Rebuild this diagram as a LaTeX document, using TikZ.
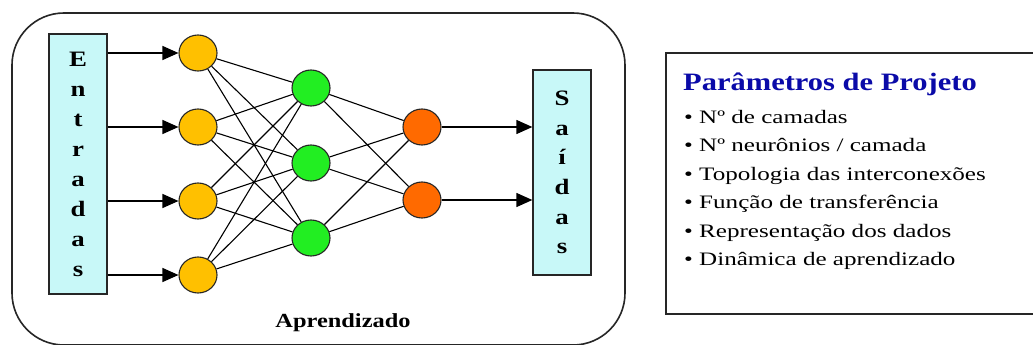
\documentclass[tikz,border=0pt]{standalone}
\usepackage{fontspec}
\setmainfont{Liberation Serif}
\newfontfamily\widefont[FakeStretch=1.22]{Liberation Serif}
\newfontfamily\listfont[FakeStretch=1.32]{Liberation Serif}
\usetikzlibrary{arrows.meta,shapes.geometric}
\definecolor{inyellow}{HTML}{FFC000}
\definecolor{hidgreen}{HTML}{22EE22}
\definecolor{outorange}{HTML}{FF6A00}
\definecolor{iocyan}{HTML}{C8F8F8}
\definecolor{titleblue}{HTML}{0A0AA8}
\begin{document}
\begin{tikzpicture}[x=1pt,y=-1pt,
  neuron/.style={ellipse,draw=black!85,line width=1.1pt,minimum width=38pt,minimum height=36pt,inner sep=0pt},
  inneuron/.style={neuron,fill=inyellow},
  hidneuron/.style={neuron,fill=hidgreen},
  outneuron/.style={neuron,fill=outorange},
  iobox/.style={draw=black!85,line width=1.3pt,fill=iocyan,minimum width=58pt,inner sep=0pt,
    align=center,font=\widefont\bfseries\fontsize{22}{30}\selectfont},
  link/.style={draw=black,line width=1.1pt},
  feed/.style={draw=black,line width=1.3pt,-{Triangle[length=16pt,width=14pt]}},
  frame/.style={draw=black!85,line width=1.6pt,rounded corners=52pt},
  panel/.style={draw=black!85,line width=1.6pt,fill=white},
  item/.style={anchor=base west,inner sep=0pt,font=\listfont\fontsize{19}{19}\selectfont}]
\useasboundingbox[fill=white] (0,0) rectangle (1033,345);

% outer learning frame
\draw[frame] (12,13) rectangle (625,345);

% input and output boxes
\node[iobox,minimum height=260pt] (ent) at (78,164) {E\\n\\t\\r\\a\\d\\a\\s};
\node[iobox,minimum height=205pt,font=\widefont\bfseries\fontsize{22}{29.6}\selectfont] (sai) at (562,172.5) {S\\a\\í\\d\\a\\s};

% neurons
\node[inneuron] (i1) at (198,53) {};
\node[inneuron] (i2) at (198,127) {};
\node[inneuron] (i3) at (198,201) {};
\node[inneuron] (i4) at (198,275) {};
\node[hidneuron] (h1) at (311,88) {};
\node[hidneuron] (h2) at (311,163) {};
\node[hidneuron] (h3) at (311,238) {};
\node[outneuron] (o1) at (422,127) {};
\node[outneuron] (o2) at (422,200) {};

% fully connected layers
\foreach \a in {i1,i2,i3,i4}
  \foreach \b in {h1,h2,h3}
    \draw[link] (\a) -- (\b);
\foreach \a in {h1,h2,h3}
  \foreach \b in {o1,o2}
    \draw[link] (\a) -- (\b);

% inputs and outputs
\foreach \n in {i1,i2,i3,i4}
  \draw[feed] (ent.east |- \n) -- (\n.west);
\draw[feed] (o1.east) -- (sai.west |- o1);
\draw[feed] (o2.east) -- (sai.west |- o2);

\node[anchor=base,inner sep=0pt,font=\widefont\bfseries\fontsize{20}{20}\selectfont] (learn) at (343,327) {Aprendizado};

% design parameters panel
\node[panel,anchor=north west,minimum width=380pt,minimum height=261pt] (par) at (665,52) {};
\node[anchor=base west,inner sep=0pt,text=titleblue,font=\widefont\bfseries\fontsize{25}{25}\selectfont] (ptitle) at (683,90) {Parâmetros de Projeto};
\node[item] (p1) at (684,123) {• Nº de camadas};
\node[item] (p2) at (684,151.5) {• Nº neurônios / camada};
\node[item] (p3) at (684,180) {• Topologia das interconexões};
\node[item] (p4) at (684,208.5) {• Função de transferência};
\node[item] (p5) at (684,237) {• Representação dos dados};
\node[item] (p6) at (684,265.5) {• Dinâmica de aprendizado};
\end{tikzpicture}
\end{document}
